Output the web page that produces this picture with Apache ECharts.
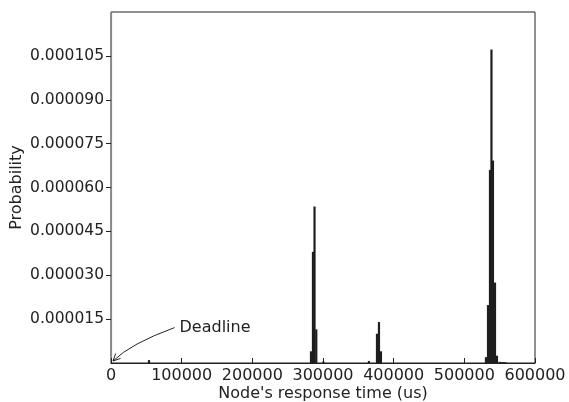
<!DOCTYPE html>
<html>
<head>
<meta charset="utf-8">
<script src="https://cdn.jsdelivr.net/npm/echarts@6/dist/echarts.min.js"></script>
<style>
  html, body { margin: 0; padding: 0; background: #fff; }
  #chart { width: 569px; height: 402px; }
</style>
</head>
<body>
<div id="chart"></div>
<script>
// response time (us) of each histogram bin
const responseTimes = [
  53800,
  283000, 285800, 288000, 290500, 300500,
  365000, 376400, 379200, 382000,
  530600, 533500, 536300, 538400, 540500, 543400, 546200,
  550000, 553000, 556000, 559000
];
// probability for each bin
const probabilities = [
  0.0000010,
  0.0000040, 0.0000380, 0.0000535, 0.0000115, 0.0000005,
  0.0000007, 0.0000100, 0.0000140, 0.0000040,
  0.0000020, 0.0000198, 0.0000660, 0.0001072, 0.0000692, 0.0000275, 0.0000025,
  0.0000004, 0.0000003, 0.0000003, 0.0000002
];
const yTicks = [0.000015, 0.000030, 0.000045, 0.000060, 0.000075, 0.000090, 0.000105];
const note = { text: 'Deadline', at: [0, 0], label: [97000, 0.0000121] };

const font = "'DejaVu Sans', sans-serif";
const chart = echarts.init(document.getElementById('chart'));

chart.setOption({
  animation: false,
  grid: {
    left: 111, right: 34, top: 12, bottom: 39,
    outerBoundsMode: 'none', containLabel: false,
    show: true, borderColor: '#222', borderWidth: 1
  },
  xAxis: {
    type: 'value',
    min: 0, max: 600000, interval: 100000,
    name: "Node's response time (us)",
    nameLocation: 'middle', nameGap: 23, nameMoveOverlap: false,
    nameTextStyle: { fontFamily: font, fontSize: 16, color: '#222' },
    axisLine: { show: true, lineStyle: { color: '#222', width: 1.2 } },
    axisTick: { show: true, inside: true, length: 5, lineStyle: { color: '#222' } },
    axisLabel: {
      fontFamily: font, fontSize: 16, color: '#222', margin: 5,
      formatter: v => String(v)
    },
    splitLine: { show: false }
  },
  yAxis: {
    type: 'value',
    min: 0, max: 0.00012, interval: 0.000015,
    name: 'Probability',
    nameLocation: 'middle', nameGap: 86, nameMoveOverlap: false,
    nameTextStyle: { fontFamily: font, fontSize: 16, color: '#222' },
    axisLine: { show: true, lineStyle: { color: '#888', width: 1.2 } },
    axisTick: {
      show: true, inside: false, length: 5, customValues: yTicks,
      lineStyle: { color: '#222' }
    },
    axisLabel: {
      fontFamily: font, fontSize: 15.5, color: '#222', margin: 7,
      customValues: yTicks,
      formatter: v => v.toFixed(6)
    },
    splitLine: { show: false }
  },
  series: [{
    type: 'bar',
    barWidth: 2.2,
    itemStyle: { color: '#1e1e1e' },
    data: responseTimes.map((t, i) => [t, probabilities[i]])
  }]
});

// annotation: curved arrow from the label to the deadline point
const tip = chart.convertToPixel({ gridIndex: 0 }, note.at);
const lab = chart.convertToPixel({ gridIndex: 0 }, note.label);
tip[0] += 2; tip[1] -= 2;
const start = [lab[0] - 5, lab[1]];
const cp = [start[0] - 44, start[1] + 16];
const dx = tip[0] - cp[0], dy = tip[1] - cp[1];
const len = Math.sqrt(dx * dx + dy * dy);
const ux = dx / len, uy = dy / len;
const headLen = 8, spread = 0.45;
function rot(a) {
  const c = Math.cos(a), s = Math.sin(a);
  return [tip[0] - headLen * (ux * c - uy * s), tip[1] - headLen * (ux * s + uy * c)];
}

chart.setOption({
  graphic: [
    {
      type: 'bezierCurve',
      shape: { x1: start[0], y1: start[1], x2: tip[0], y2: tip[1], cpx1: cp[0], cpy1: cp[1] },
      style: { stroke: '#222', lineWidth: 1, fill: null }
    },
    {
      type: 'polyline',
      shape: { points: [rot(spread), tip, rot(-spread)] },
      style: { stroke: '#222', lineWidth: 1, fill: null }
    },
    {
      type: 'text',
      x: lab[0], y: lab[1],
      style: {
        text: note.text, fontFamily: font, fontSize: 16, fill: '#222',
        textAlign: 'left', textVerticalAlign: 'middle'
      }
    }
  ]
});
</script>
</body>
</html>
